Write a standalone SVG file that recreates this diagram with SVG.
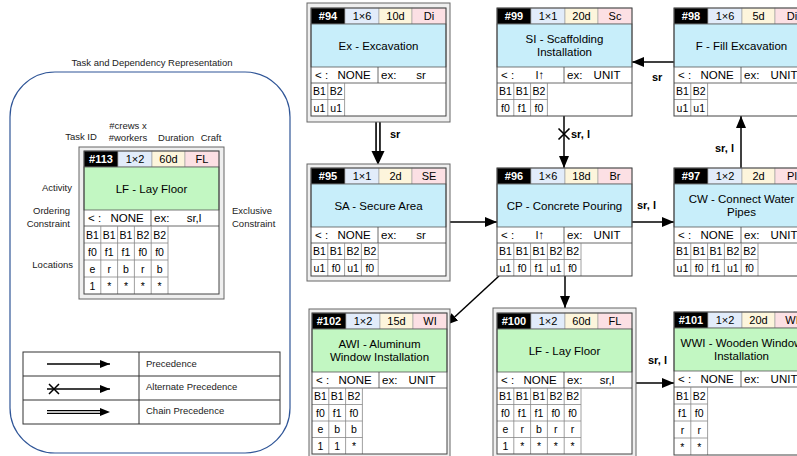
<svg xmlns="http://www.w3.org/2000/svg" width="797" height="456" viewBox="0 0 797 456">
<defs>
<style>
text{font-family:"Liberation Sans",Arial,Helvetica,sans-serif;fill:#000}
.h{font-size:11px;text-anchor:middle}
.hw{fill:#fff;font-weight:bold}
.bt{font-size:11.5px;text-anchor:middle}
.ct{font-size:11.5px}
.cm{font-size:11.5px;text-anchor:middle}
.lt{font-size:10.5px;text-anchor:middle}
.lbl{font-size:11px;font-weight:bold}
.leg{font-size:9.5px;fill:#222}
.legm{font-size:9.5px;fill:#222;text-anchor:middle}
.legr{font-size:9.5px;fill:#222;text-anchor:end}
.ci{fill:#000;stroke:#888;stroke-width:0.6}
.cc{fill:#e2ecfa;stroke:#999;stroke-width:0.6}
.cd{fill:#fdf5dc;stroke:#999;stroke-width:0.6}
.ck{fill:#fce0e4;stroke:#999;stroke-width:0.6}
.bb{fill:#c8eefa;stroke:#555;stroke-width:0.8}
.bg{fill:#c2f7c2;stroke:#555;stroke-width:0.8}
.g{stroke:#888;stroke-width:0.8;fill:none}
.o{fill:none;stroke:#444;stroke-width:1}
.bx{fill:#fff}
.fr{fill:#efefef;stroke:#666;stroke-width:1}
.cn{stroke:#000;stroke-width:1.5;fill:none}
.ln{stroke:#000;stroke-width:1.3;fill:none}
</style>
<marker id="ah" markerWidth="12" markerHeight="10" refX="12" refY="5" orient="auto" markerUnits="userSpaceOnUse"><path d="M0,0 L12,5 L0,10 z" fill="#000"/></marker>
<marker id="ahs" markerWidth="10" markerHeight="8" refX="10" refY="4" orient="auto" markerUnits="userSpaceOnUse"><path d="M0,0 L10,4 L0,8 z" fill="#000"/></marker>
</defs>

<!-- Legend panel -->
<g id="legend">
<text class="legm" x="152" y="66">Task and Dependency Representation</text>
<rect x="10" y="72" width="280" height="381" rx="45" ry="45" fill="none" stroke="#2f5597" stroke-width="1.2"/>
<text class="legm" x="81" y="140">Task ID</text>
<text class="legm" x="128" y="129">#crews x</text>
<text class="legm" x="128" y="141">#workers</text>
<text class="legm" x="176" y="141">Duration</text>
<text class="legm" x="211" y="141">Craft</text>
<text class="legr" x="72" y="191">Activity</text>
<text class="legr" x="70" y="214">Ordering</text>
<text class="legr" x="70" y="227">Constraint</text>
<text class="leg" x="232" y="214">Exclusive</text>
<text class="leg" x="232" y="227">Constraint</text>
<text class="legr" x="73" y="268">Locations</text>
</g>

<g id="n113" transform="translate(84,151)">
<rect class="fr" x="-5" y="-4" width="145" height="152"/>
<rect class="bx" x="0" y="0" width="135" height="143"/>
<rect class="ci" x="0" y="0" width="34" height="16"/><rect class="cc" x="34" y="0" width="34" height="16"/><rect class="cd" x="68" y="0" width="33" height="16"/><rect class="ck" x="101" y="0" width="34" height="16"/>
<text class="h hw" x="17" y="12">#113</text><text class="h" x="51" y="12">1×2</text><text class="h" x="84.5" y="12">60d</text><text class="h" x="118" y="12">FL</text>
<rect class="bg" x="0" y="16" width="135" height="43"/>
<text class="bt" x="67.5" y="41.5">LF - Lay Floor</text>
<line class="g" x1="0" y1="75" x2="135" y2="75" style="stroke:#444"/><line class="g" x1="67" y1="59" x2="67" y2="75" style="stroke:#444"/>
<text class="ct" x="4" y="71">&lt; :</text><text class="cm" x="43" y="71">NONE</text><text class="ct" x="70" y="71">ex:</text><text class="cm" x="110" y="71">sr,l</text>
<path class="g" d="M16.8,75V143M33.6,75V143M50.4,75V143M67.2,75V143M84,75V143M0,92H84M0,109H84M0,126H84"/>
<text class="lt" x="8.4" y="87.5">B1</text><text class="lt" x="25.2" y="87.5">B1</text><text class="lt" x="42" y="87.5">B1</text><text class="lt" x="58.8" y="87.5">B2</text><text class="lt" x="75.6" y="87.5">B2</text>
<text class="lt" x="8.4" y="104.5">f0</text><text class="lt" x="25.2" y="104.5">f1</text><text class="lt" x="42" y="104.5">f1</text><text class="lt" x="58.8" y="104.5">f0</text><text class="lt" x="75.6" y="104.5">f0</text>
<text class="lt" x="8.4" y="121.5">e</text><text class="lt" x="25.2" y="121.5">r</text><text class="lt" x="42" y="121.5">b</text><text class="lt" x="58.8" y="121.5">r</text><text class="lt" x="75.6" y="121.5">b</text>
<text class="lt" x="8.4" y="138.5">1</text><text class="lt" x="25.2" y="138.5">*</text><text class="lt" x="42" y="138.5">*</text><text class="lt" x="58.8" y="138.5">*</text><text class="lt" x="75.6" y="138.5">*</text>
<rect class="o" x="0" y="0" width="135" height="143"/>
</g>

<g id="legend-table">
<rect x="23" y="352" width="257" height="72" fill="#fff" stroke="#333" stroke-width="1"/>
<line x1="23" y1="376" x2="280" y2="376" stroke="#333"/>
<line x1="23" y1="400" x2="280" y2="400" stroke="#333"/>
<line x1="139" y1="352" x2="139" y2="424" stroke="#333"/>
<line class="ln" x1="47" y1="364" x2="110" y2="364" marker-end="url(#ahs)"/>
<line class="ln" x1="47" y1="389" x2="110" y2="389" marker-end="url(#ahs)"/>
<path d="M49,384 L59,394 M49,394 L59,384" stroke="#000" stroke-width="1.5"/>
<line x1="47" y1="412" x2="101" y2="412" stroke="#000" stroke-width="4"/>
<line x1="47" y1="412" x2="101" y2="412" stroke="#fff" stroke-width="1.3"/>
<path d="M100,408 L110,412 L100,416 z" fill="#000"/>
<text class="leg" x="146" y="367">Precedence</text>
<text class="leg" x="146" y="390">Alternate Precedence</text>
<text class="leg" x="146" y="414">Chain Precedence</text>
</g>

<!-- Connectors -->
<g id="connectors">
<line x1="378" y1="122" x2="378" y2="152" stroke="#000" stroke-width="5.5"/>
<line x1="378" y1="122" x2="378" y2="152" stroke="#fff" stroke-width="2.3"/>
<path d="M371.5,151 L384.5,151 L378,165 z" fill="#000"/>
<text class="lbl" x="390" y="138">sr</text>
<line class="cn" x1="674" y1="62" x2="632" y2="62" marker-end="url(#ah)"/>
<text class="lbl" x="652" y="81">sr</text>
<line class="cn" x1="564" y1="116" x2="564" y2="168" marker-end="url(#ah)"/>
<path d="M558.5,128.5 L569.5,139.5 M558.5,139.5 L569.5,128.5" stroke="#000" stroke-width="1.6"/>
<text class="lbl" x="571" y="138">sr, l</text>
<line class="cn" x1="741" y1="168" x2="741" y2="116" marker-end="url(#ah)"/>
<text class="lbl" x="715" y="152">sr, l</text>
<line class="cn" x1="450" y1="222" x2="497" y2="222" marker-end="url(#ah)"/>
<line class="cn" x1="632" y1="222" x2="674" y2="222" marker-end="url(#ah)"/>
<text class="lbl" x="637" y="209">sr, l</text>
<line class="cn" x1="499" y1="276" x2="446" y2="325" marker-end="url(#ah)"/>
<line class="cn" x1="565" y1="276" x2="565" y2="308" marker-end="url(#ah)"/>
<line class="cn" x1="636" y1="383" x2="674" y2="383" marker-end="url(#ah)"/>
<text class="lbl" x="648" y="364">sr, l</text>
</g>

<!-- #94 -->
<g id="n94" transform="translate(311,8)">
<rect class="fr" x="-4" y="-5" width="143" height="119"/>
<rect class="bx" x="0" y="0" width="135" height="108"/>
<rect class="ci" x="0" y="0" width="34" height="16"/><rect class="cc" x="34" y="0" width="34" height="16"/><rect class="cd" x="68" y="0" width="33" height="16"/><rect class="ck" x="101" y="0" width="34" height="16"/>
<text class="h hw" x="17" y="12">#94</text><text class="h" x="51" y="12">1×6</text><text class="h" x="84.5" y="12">10d</text><text class="h" x="118" y="12">Di</text>
<rect class="bb" x="0" y="16" width="135" height="43"/>
<text class="bt" x="67.5" y="41.5">Ex - Excavation</text>
<path d="M0,75H135M67,59V75" stroke="#444" stroke-width="0.8"/>
<text class="ct" x="4" y="71">&lt; :</text><text class="cm" x="43" y="71">NONE</text><text class="ct" x="70" y="71">ex:</text><text class="cm" x="110" y="71">sr</text>
<path class="g" d="M16.8,75V108M33.6,75V108M0,91.5H33.6"/>
<text class="lt" x="8.4" y="87">B1</text><text class="lt" x="25.2" y="87">B2</text>
<text class="lt" x="8.4" y="103.5">u1</text><text class="lt" x="25.2" y="103.5">u1</text>
<rect class="o" x="0" y="0" width="135" height="108"/>
</g>

<!-- #99 -->
<g id="n99" transform="translate(497,8)">
<rect class="bx" x="0" y="0" width="135" height="108"/>
<rect class="ci" x="0" y="0" width="34" height="16"/><rect class="cc" x="34" y="0" width="34" height="16"/><rect class="cd" x="68" y="0" width="33" height="16"/><rect class="ck" x="101" y="0" width="34" height="16"/>
<text class="h hw" x="17" y="12">#99</text><text class="h" x="51" y="12">1×1</text><text class="h" x="84.5" y="12">20d</text><text class="h" x="118" y="12">Sc</text>
<rect class="bb" x="0" y="16" width="135" height="43"/>
<text class="bt" x="67.5" y="35">SI - Scaffolding</text>
<text class="bt" x="67.5" y="47.5">Installation</text>
<path d="M0,75H135M67,59V75" stroke="#444" stroke-width="0.8"/>
<text class="ct" x="4" y="71">&lt; :</text><text class="cm" x="43" y="71">l↑</text><text class="ct" x="70" y="71">ex:</text><text class="cm" x="110" y="71">UNIT</text>
<path class="g" d="M16.8,75V108M33.6,75V108M50.4,75V108M0,91.5H50.4"/>
<text class="lt" x="8.4" y="87">B1</text><text class="lt" x="25.2" y="87">B1</text><text class="lt" x="42" y="87">B2</text>
<text class="lt" x="8.4" y="103.5">f0</text><text class="lt" x="25.2" y="103.5">f1</text><text class="lt" x="42" y="103.5">f0</text>
<rect class="o" x="0" y="0" width="135" height="108"/>
</g>

<!-- #98 -->
<g id="n98" transform="translate(674,8)">
<rect class="bx" x="0" y="0" width="135" height="108"/>
<rect class="ci" x="0" y="0" width="34" height="16"/><rect class="cc" x="34" y="0" width="34" height="16"/><rect class="cd" x="68" y="0" width="33" height="16"/><rect class="ck" x="101" y="0" width="34" height="16"/>
<text class="h hw" x="17" y="12">#98</text><text class="h" x="51" y="12">1×6</text><text class="h" x="84.5" y="12">5d</text><text class="h" x="118" y="12">Di</text>
<rect class="bb" x="0" y="16" width="135" height="43"/>
<text class="bt" x="67.5" y="41.5">F - Fill Excavation</text>
<path d="M0,75H135M67,59V75" stroke="#444" stroke-width="0.8"/>
<text class="ct" x="4" y="71">&lt; :</text><text class="cm" x="43" y="71">NONE</text><text class="ct" x="70" y="71">ex:</text><text class="cm" x="110" y="71">UNIT</text>
<path class="g" d="M16.8,75V108M33.6,75V108M0,91.5H33.6"/>
<text class="lt" x="8.4" y="87">B1</text><text class="lt" x="25.2" y="87">B2</text>
<text class="lt" x="8.4" y="103.5">u1</text><text class="lt" x="25.2" y="103.5">u1</text>
<rect class="o" x="0" y="0" width="135" height="108"/>
</g>

<!-- #95 -->
<g id="n95" transform="translate(311,168)">
<rect class="fr" x="-4" y="-4" width="143" height="117"/>
<rect class="bx" x="0" y="0" width="135" height="108"/>
<rect class="ci" x="0" y="0" width="34" height="16"/><rect class="cc" x="34" y="0" width="34" height="16"/><rect class="cd" x="68" y="0" width="33" height="16"/><rect class="ck" x="101" y="0" width="34" height="16"/>
<text class="h hw" x="17" y="12">#95</text><text class="h" x="51" y="12">1×1</text><text class="h" x="84.5" y="12">2d</text><text class="h" x="118" y="12">SE</text>
<rect class="bb" x="0" y="16" width="135" height="43"/>
<text class="bt" x="67.5" y="41.5">SA - Secure Area</text>
<path d="M0,75H135M67,59V75" stroke="#444" stroke-width="0.8"/>
<text class="ct" x="4" y="71">&lt; :</text><text class="cm" x="43" y="71">NONE</text><text class="ct" x="70" y="71">ex:</text><text class="cm" x="110" y="71">sr</text>
<path class="g" d="M16.8,75V108M33.6,75V108M50.4,75V108M67.2,75V108M0,91.5H67.2"/>
<text class="lt" x="8.4" y="87">B1</text><text class="lt" x="25.2" y="87">B1</text><text class="lt" x="42" y="87">B2</text><text class="lt" x="58.8" y="87">B2</text>
<text class="lt" x="8.4" y="103.5">u1</text><text class="lt" x="25.2" y="103.5">f0</text><text class="lt" x="42" y="103.5">u1</text><text class="lt" x="58.8" y="103.5">f0</text>
<rect class="o" x="0" y="0" width="135" height="108"/>
</g>

<!-- #96 -->
<g id="n96" transform="translate(497,168)">
<rect class="bx" x="0" y="0" width="135" height="108"/>
<rect class="ci" x="0" y="0" width="34" height="16"/><rect class="cc" x="34" y="0" width="34" height="16"/><rect class="cd" x="68" y="0" width="33" height="16"/><rect class="ck" x="101" y="0" width="34" height="16"/>
<text class="h hw" x="17" y="12">#96</text><text class="h" x="51" y="12">1×6</text><text class="h" x="84.5" y="12">18d</text><text class="h" x="118" y="12">Br</text>
<rect class="bb" x="0" y="16" width="135" height="43"/>
<text class="bt" x="67.5" y="41.5">CP - Concrete Pouring</text>
<path d="M0,75H135M67,59V75" stroke="#444" stroke-width="0.8"/>
<text class="ct" x="4" y="71">&lt; :</text><text class="cm" x="43" y="71">l↑</text><text class="ct" x="70" y="71">ex:</text><text class="cm" x="110" y="71">UNIT</text>
<path class="g" d="M16.8,75V108M33.6,75V108M50.4,75V108M67.2,75V108M84,75V108M0,91.5H84"/>
<text class="lt" x="8.4" y="87">B1</text><text class="lt" x="25.2" y="87">B1</text><text class="lt" x="42" y="87">B1</text><text class="lt" x="58.8" y="87">B2</text><text class="lt" x="75.6" y="87">B2</text>
<text class="lt" x="8.4" y="103.5">u1</text><text class="lt" x="25.2" y="103.5">f0</text><text class="lt" x="42" y="103.5">f1</text><text class="lt" x="58.8" y="103.5">u1</text><text class="lt" x="75.6" y="103.5">f0</text>
<rect class="o" x="0" y="0" width="135" height="108"/>
</g>

<!-- #97 -->
<g id="n97" transform="translate(674,168)">
<rect class="bx" x="0" y="0" width="135" height="108"/>
<rect class="ci" x="0" y="0" width="34" height="16"/><rect class="cc" x="34" y="0" width="34" height="16"/><rect class="cd" x="68" y="0" width="33" height="16"/><rect class="ck" x="101" y="0" width="34" height="16"/>
<text class="h hw" x="17" y="12">#97</text><text class="h" x="51" y="12">1×2</text><text class="h" x="84.5" y="12">2d</text><text class="h" x="118" y="12">Pl</text>
<rect class="bb" x="0" y="16" width="135" height="43"/>
<text class="bt" x="67.5" y="35">CW - Connect Water</text>
<text class="bt" x="67.5" y="47.5">Pipes</text>
<path d="M0,75H135M67,59V75" stroke="#444" stroke-width="0.8"/>
<text class="ct" x="4" y="71">&lt; :</text><text class="cm" x="43" y="71">NONE</text><text class="ct" x="70" y="71">ex:</text><text class="cm" x="110" y="71">UNIT</text>
<path class="g" d="M16.8,75V108M33.6,75V108M50.4,75V108M67.2,75V108M84,75V108M0,91.5H84"/>
<text class="lt" x="8.4" y="87">B1</text><text class="lt" x="25.2" y="87">B1</text><text class="lt" x="42" y="87">B1</text><text class="lt" x="58.8" y="87">B2</text><text class="lt" x="75.6" y="87">B2</text>
<text class="lt" x="8.4" y="103.5">u1</text><text class="lt" x="25.2" y="103.5">f0</text><text class="lt" x="42" y="103.5">f1</text><text class="lt" x="58.8" y="103.5">u1</text><text class="lt" x="75.6" y="103.5">f0</text>
<rect class="o" x="0" y="0" width="135" height="108"/>
</g>

<!-- #102 -->
<g id="n102" transform="translate(312,313)">
<rect class="fr" x="-3" y="-4" width="141" height="150"/>
<rect class="bx" x="0" y="0" width="135" height="141"/>
<rect class="ci" x="0" y="0" width="34" height="16"/><rect class="cc" x="34" y="0" width="34" height="16"/><rect class="cd" x="68" y="0" width="33" height="16"/><rect class="ck" x="101" y="0" width="34" height="16"/>
<text class="h hw" x="17" y="12">#102</text><text class="h" x="51" y="12">1×2</text><text class="h" x="84.5" y="12">15d</text><text class="h" x="118" y="12">WI</text>
<rect class="bg" x="0" y="16" width="135" height="43"/>
<text class="bt" x="67.5" y="35">AWI - Aluminum</text>
<text class="bt" x="67.5" y="47.5">Window Installation</text>
<path d="M0,75H135M67,59V75" stroke="#444" stroke-width="0.8"/>
<text class="ct" x="4" y="71">&lt; :</text><text class="cm" x="43" y="71">NONE</text><text class="ct" x="70" y="71">ex:</text><text class="cm" x="110" y="71">UNIT</text>
<path class="g" d="M16.8,75V141M33.6,75V141M50.4,75V141M0,91.5H50.4M0,108H50.4M0,124.5H50.4"/>
<text class="lt" x="8.4" y="87">B1</text><text class="lt" x="25.2" y="87">B1</text><text class="lt" x="42" y="87">B2</text>
<text class="lt" x="8.4" y="103.5">f0</text><text class="lt" x="25.2" y="103.5">f1</text><text class="lt" x="42" y="103.5">f0</text>
<text class="lt" x="8.4" y="120">e</text><text class="lt" x="25.2" y="120">b</text><text class="lt" x="42" y="120">b</text>
<text class="lt" x="8.4" y="136.5">1</text><text class="lt" x="25.2" y="136.5">1</text><text class="lt" x="42" y="136.5">*</text>
<rect class="o" x="0" y="0" width="135" height="141"/>
</g>

<!-- #100 -->
<g id="n100" transform="translate(497,313)">
<rect class="fr" x="-4" y="-5" width="143" height="150"/>
<rect class="bx" x="0" y="0" width="135" height="141"/>
<rect class="ci" x="0" y="0" width="34" height="16"/><rect class="cc" x="34" y="0" width="34" height="16"/><rect class="cd" x="68" y="0" width="33" height="16"/><rect class="ck" x="101" y="0" width="34" height="16"/>
<text class="h hw" x="17" y="12">#100</text><text class="h" x="51" y="12">1×2</text><text class="h" x="84.5" y="12">60d</text><text class="h" x="118" y="12">FL</text>
<rect class="bg" x="0" y="16" width="135" height="43"/>
<text class="bt" x="67.5" y="41.5">LF - Lay Floor</text>
<path d="M0,75H135M67,59V75" stroke="#444" stroke-width="0.8"/>
<text class="ct" x="4" y="71">&lt; :</text><text class="cm" x="43" y="71">NONE</text><text class="ct" x="70" y="71">ex:</text><text class="cm" x="110" y="71">sr,l</text>
<path class="g" d="M16.8,75V141M33.6,75V141M50.4,75V141M67.2,75V141M84,75V141M0,91.5H84M0,108H84M0,124.5H84"/>
<text class="lt" x="8.4" y="87">B1</text><text class="lt" x="25.2" y="87">B1</text><text class="lt" x="42" y="87">B1</text><text class="lt" x="58.8" y="87">B2</text><text class="lt" x="75.6" y="87">B2</text>
<text class="lt" x="8.4" y="103.5">f0</text><text class="lt" x="25.2" y="103.5">f1</text><text class="lt" x="42" y="103.5">f1</text><text class="lt" x="58.8" y="103.5">f0</text><text class="lt" x="75.6" y="103.5">f0</text>
<text class="lt" x="8.4" y="120">e</text><text class="lt" x="25.2" y="120">r</text><text class="lt" x="42" y="120">b</text><text class="lt" x="58.8" y="120">r</text><text class="lt" x="75.6" y="120">r</text>
<text class="lt" x="8.4" y="136.5">1</text><text class="lt" x="25.2" y="136.5">*</text><text class="lt" x="42" y="136.5">*</text><text class="lt" x="58.8" y="136.5">*</text><text class="lt" x="75.6" y="136.5">*</text>
<rect class="o" x="0" y="0" width="135" height="141"/>
</g>

<!-- #101 -->
<g id="n101" transform="translate(674,312)">
<rect class="bx" x="0" y="0" width="135" height="143"/>
<rect class="ci" x="0" y="0" width="34" height="16"/><rect class="cc" x="34" y="0" width="34" height="16"/><rect class="cd" x="68" y="0" width="33" height="16"/><rect class="ck" x="101" y="0" width="34" height="16"/>
<text class="h hw" x="17" y="12">#101</text><text class="h" x="51" y="12">1×2</text><text class="h" x="84.5" y="12">20d</text><text class="h" x="118" y="12">WI</text>
<rect class="bg" x="0" y="16" width="135" height="43"/>
<text class="bt" x="67.5" y="35">WWI - Wooden Window</text>
<text class="bt" x="67.5" y="47.5">Installation</text>
<path d="M0,75H135M67,59V75" stroke="#444" stroke-width="0.8"/>
<text class="ct" x="4" y="71">&lt; :</text><text class="cm" x="43" y="71">NONE</text><text class="ct" x="70" y="71">ex:</text><text class="cm" x="110" y="71">UNIT</text>
<path class="g" d="M16.8,75V143M33.6,75V143M0,92H33.6M0,109H33.6M0,126H33.6"/>
<text class="lt" x="8.4" y="87.5">B1</text><text class="lt" x="25.2" y="87.5">B2</text>
<text class="lt" x="8.4" y="104.5">f1</text><text class="lt" x="25.2" y="104.5">f0</text>
<text class="lt" x="8.4" y="121.5">r</text><text class="lt" x="25.2" y="121.5">r</text>
<text class="lt" x="8.4" y="138.5">*</text><text class="lt" x="25.2" y="138.5">*</text>
<rect class="o" x="0" y="0" width="135" height="143"/>
</g>
</svg>
